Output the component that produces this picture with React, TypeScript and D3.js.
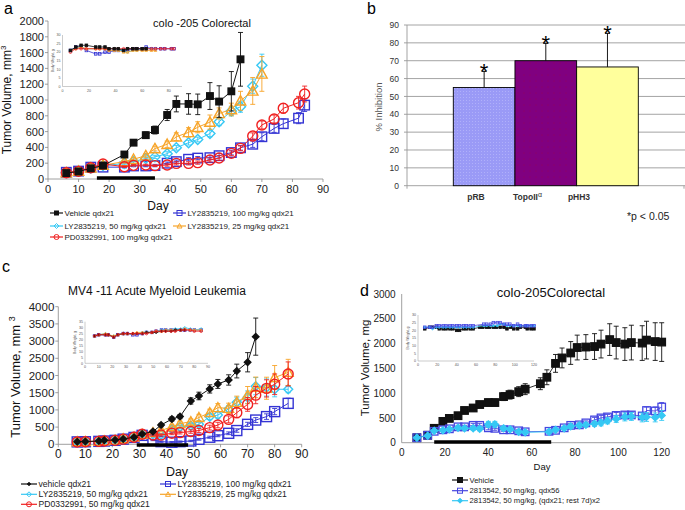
import React from 'react';
import * as d3 from 'd3';

const FONT = '"Liberation Sans", Arial, Helvetica, sans-serif';

// ---------------- Panel a data ----------------
const aDays = [6, 10, 14, 18, 25, 28, 32, 35, 39, 42, 46, 49, 53, 56, 60, 63, 67, 70, 74, 77, 82, 84];
const aVehicle = [75, 95, 135, 170, 310, 460, 555, 620, 810, 950, 950, 945, 1050, 980, 1110, 1515];
const aVehicleErr = [10, 10, 15, 20, 30, 30, 40, 50, 70, 100, 130, 130, 170, 200, 250, 340];
const aLY100 = [85, 100, 150, 150, 150, 165, 165, 170, 200, 220, 250, 265, 270, 295, 335, 395, 440, 535, 640, 700, 770, 935];
const aLY100Err = [5, 5, 10, 10, 10, 10, 10, 15, 15, 20, 20, 20, 25, 30, 30, 30, 40, 50, 50, 60, 70, 80];
const aLY50 = [80, 100, 140, 170, 195, 220, 260, 280, 320, 395, 460, 500, 575, 725, 860, 915, 1175, 1440];
const aLY50Err = [5, 5, 10, 10, 15, 20, 20, 20, 25, 30, 30, 30, 40, 50, 60, 70, 90, 140];
const aLY25 = [80, 100, 140, 175, 220, 250, 295, 385, 440, 535, 590, 655, 720, 830, 880, 990, 1115, 1330];
const aLY25Err = [5, 5, 10, 10, 20, 20, 25, 30, 40, 50, 60, 70, 90, 70, 80, 120, 170, 220];
const aPD = [80, 97, 143, 190, 156, 173, 177, 169, 177, 198, 198, 207, 240, 266, 325, 388, 544, 684, 760, 895, 966, 1076];
const aPDErr = [5, 5, 10, 10, 10, 10, 10, 10, 15, 20, 20, 20, 25, 30, 30, 30, 40, 50, 50, 60, 80, 100];
const aDosing = [16, 35];
const aXTicks = [0, 10, 20, 30, 40, 50, 60, 70, 80, 90];
const aYTicks = [0, 200, 400, 600, 800, 1000, 1200, 1400, 1600, 1800, 2000];
// body weight inset (a)
const aBwVeh = [21, 23, 24, 24, 23, 23, 23, 22, 22, 22, 21, 22, 22, 22, 22, 22];
const aBwLY100 = [21, 23, 23, 21, 19, 19, 20, 20, 21, 21, 21, 21, 22, 22, 22, 23, 22, 22, 22, 22, 22, 22];
const aBwLY50 = [21, 22, 23, 22, 22, 22, 22, 22, 22, 21, 21, 20, 21, 21, 22, 22, 22, 22];
const aBwLY25 = [21, 22, 23, 22, 22, 22, 22, 21, 21, 21, 20, 20, 21, 21, 21, 21, 21, 21];
const aBwPD = [20, 22, 22, 22, 22, 22, 22, 22, 22, 22, 22, 22, 22, 22, 22, 22, 22, 22, 22, 22, 22, 22];
const aInsetXTicks = [0, 20, 40, 60, 80];
const insetYTicks30 = [0, 5, 10, 15, 20, 25, 30];

// ---------------- Panel b data ----------------
const bCategories = ['pRB', 'TopoIIα', 'pHH3'];
const bValues = [55, 70, 66.5];
const bErrors = [9, 9.7, 18.8];
const bYTicks = [0, 10, 20, 30, 40, 50, 60, 70, 80, 90];

// ---------------- Panel c data ----------------
const cDays = [7, 10, 15, 17, 21, 24, 28, 31, 35, 38, 42, 45, 49, 52, 56, 59, 63, 66, 70, 73, 77, 80, 85];
const cVehicle = [75, 80, 95, 115, 125, 155, 205, 300, 370, 560, 735, 805, 1260, 1405, 1610, 1755, 1870, 2130, 2385, 3130];
const cVehicleErr = [10, 10, 10, 15, 15, 20, 25, 30, 40, 50, 60, 60, 90, 110, 120, 130, 150, 200, 280, 540];
const cLY100 = [70, 75, 85, 95, 115, 150, 200, 260, 126, 77, 60, 77, 97, 145, 205, 250, 320, 400, 580, 705, 805, 950, 1190];
const cLY100Err = [10, 10, 10, 10, 15, 15, 20, 20, 20, 20, 20, 20, 20, 25, 30, 30, 40, 50, 60, 70, 80, 90, 150];
const cLY50 = [75, 80, 90, 100, 120, 155, 205, 290, 300, 280, 440, 500, 540, 580, 800, 850, 1030, 1220, 1370, 1690, 1650, 1600, 1600];
const cLY50Err = [10, 10, 10, 10, 15, 15, 20, 25, 30, 30, 40, 50, 60, 60, 80, 90, 100, 150, 180, 250, 250, 220, 100];
const cLY25 = [75, 80, 90, 100, 120, 160, 210, 290, 340, 400, 510, 600, 660, 780, 920, 1065, 1045, 1220, 1430, 1655, 1630, 1940, 2090];
const cLY25Err = [10, 10, 10, 10, 15, 15, 20, 25, 30, 40, 60, 70, 80, 90, 100, 120, 150, 180, 250, 300, 320, 350, 380];
const cPD = [65, 75, 85, 95, 115, 150, 205, 290, 270, 270, 320, 340, 370, 400, 485, 560, 725, 920, 1160, 1430, 1625, 1745, 2045];
const cPDErr = [10, 10, 10, 10, 15, 15, 20, 25, 30, 30, 40, 40, 50, 60, 70, 80, 100, 150, 200, 250, 250, 300, 350];
const cDosing = [29, 48];
const cXTicks = [0, 10, 20, 30, 40, 50, 60, 70, 80, 90];
const cYTicks = [0, 500, 1000, 1500, 2000, 2500, 3000, 3500, 4000];
const cBwVeh = [23, 24, 24, 24, 22, 24, 25, 25, 25, 25, 25, 26, 26, 26, 27, 27, 27, 28, 28, 28];
const cBwLY100 = [23, 24, 24, 24, 22, 24, 25, 25, 24, 24, 25, 26, 26, 27, 28, 28, 28, 28, 28, 28, 28, 28, 28];
const cBwLY50 = [23, 24, 25, 24, 23, 24, 25, 25, 25, 25, 26, 26, 26, 27, 28, 28, 28, 29, 29, 30, 29, 28, 29];
const cBwLY25 = [23, 24, 25, 24, 23, 24, 25, 25, 25, 26, 26, 26, 26, 27, 27, 28, 28, 28, 28, 29, 28, 28, 28];
const cBwPD = [23, 24, 24, 24, 22, 24, 25, 25, 25, 25, 25, 25, 26, 27, 27, 27, 27, 27, 28, 28, 28, 27, 27];
const cInsetXTicks = [0, 10, 20, 30, 40, 50, 60, 70, 80, 90];
const cInsetYTicks = [0, 5, 10, 15, 20, 25, 30, 35];

// ---------------- Panel d data ----------------
const dDaysVeh = [7, 12, 15, 19, 22, 26, 29, 33, 36, 40, 43, 47, 50, 54, 57, 64, 67, 71, 74, 78, 81, 85, 89, 92, 96, 99, 103, 106, 111, 113, 117, 120];
const dVehicle = [100, 150, 290, 430, 490, 545, 650, 700, 770, 810, 810, 930, 970, 1030, 1080, 1190, 1320, 1600, 1710, 1810, 1920, 1930, 1940, 1990, 2080, 2020, 1990, 2020, 2010, 2070, 2040, 2030];
const dVehicleErr = [10, 15, 30, 40, 40, 40, 50, 60, 60, 70, 70, 80, 90, 100, 110, 120, 150, 180, 200, 230, 250, 250, 260, 280, 320, 330, 330, 350, 350, 380, 380, 390];
const dDaysTx = [7, 12, 15, 19, 22, 26, 29, 33, 36, 40, 43, 47, 50, 54, 57, 68, 71, 75, 78, 82, 85, 89, 92, 95, 99, 103, 106, 111, 113, 117, 120];
const dQdx56 = [100, 150, 230, 260, 280, 320, 320, 350, 350, 300, 290, 260, 260, 240, 220, 230, 250, 300, 350, 360, 400, 460, 500, 520, 550, 560, 560, 540, 650, 640, 720];
const dQdx56Err = [10, 15, 20, 20, 20, 30, 30, 40, 40, 40, 40, 30, 30, 30, 30, 30, 30, 30, 40, 40, 40, 50, 50, 50, 60, 60, 60, 70, 70, 80, 90];
const dQdx21 = [100, 140, 240, 250, 270, 300, 290, 290, 280, 370, 370, 290, 270, 220, 210, 220, 260, 290, 330, 350, 360, 380, 400, 440, 480, 520, 530, 510, 520, 510, 550];
const dQdx21Err = [10, 15, 20, 20, 20, 30, 30, 40, 40, 60, 60, 40, 30, 30, 30, 30, 30, 30, 40, 40, 40, 50, 60, 60, 70, 80, 80, 90, 90, 90, 100];
const dDosing = [15, 69];
const dXTicks = [0, 20, 40, 60, 80, 100, 120];
const dYTicks = [0, 500, 1000, 1500, 2000, 2500, 3000];
const dBwVeh = [21, 22, 22, 22, 21, 21, 21, 21, 21, 20, 20, 21, 21, 21, 21, 22, 22, 22, 22, 22, 22, 22, 22, 21, 22, 21, 21, 22, 22, 21, 21, 21];
const dBwQdx56 = [22, 22, 22, 23, 23, 23, 23, 23, 23, 23, 23, 23, 23, 23, 23, 24, 24, 24, 25, 25, 25, 24, 24, 24, 23, 24, 23, 23, 23, 23, 23];
const dBwQdx21 = [22, 22, 21, 22, 22, 22, 22, 22, 22, 22, 22, 22, 22, 22, 22, 23, 23, 23, 23, 23, 24, 24, 23, 23, 23, 23, 23, 23, 23, 23, 23];
const dInsetXTicks = [0, 20, 40, 60, 80, 100, 120];

// ---------------- colours ----------------
const BLACK = '#111';
const BLUE = '#3434d4';
const CYAN = '#36c8f4';
const ORANGE = '#f7a428';
const RED = '#f02020';

function Marker({ shape, x, y, size, color, filled, sw = 1.3 }: any) {
  const h = size / 2;
  const fill = filled ? color : 'none';
  if (shape === 'square') return <rect x={x - h} y={y - h} width={size} height={size} fill={fill} stroke={color} strokeWidth={sw} />;
  if (shape === 'circle') return <circle cx={x} cy={y} r={h} fill={fill} stroke={color} strokeWidth={sw} />;
  if (shape === 'diamond') return <path d={`M${x},${y - h}L${x + h},${y}L${x},${y + h}L${x - h},${y}Z`} fill={fill} stroke={color} strokeWidth={sw} />;
  if (shape === 'triangle') return <path d={`M${x},${y - h}L${x + h},${y + h * 0.8}L${x - h},${y + h * 0.8}Z`} fill={fill} stroke={color} strokeWidth={sw} />;
  return null;
}

function SeriesG({ s, xs, ys, lw = 1, cap = 5, sw = 1.3, noErr = false }: any) {
  const pts: [number, number][] = s.values.map((v: number, i: number) => [s.days[i], v]);
  const line = d3.line<[number, number]>().x(d => xs(d[0])).y(d => ys(d[1]));
  return (
    <g>
      <path d={line(pts) || ''} fill="none" stroke={s.color} strokeWidth={lw} />
      {!noErr && s.errors && pts.map((p, i) => {
        const e = s.errors[i];
        const x = xs(p[0]);
        const y1 = ys(p[1] + e), y2 = ys(p[1] - e);
        return (
          <g key={'e' + i} stroke={s.errColor || s.color} strokeWidth={0.9}>
            <line x1={x} x2={x} y1={y1} y2={y2} />
            <line x1={x - cap / 2} x2={x + cap / 2} y1={y1} y2={y1} />
            <line x1={x - cap / 2} x2={x + cap / 2} y1={y2} y2={y2} />
          </g>
        );
      })}
      {pts.map((p, i) => (
        <Marker key={'m' + i} shape={s.shape} x={xs(p[0])} y={ys(p[1])} size={s.size} color={s.color} filled={s.filled} sw={sw} />
      ))}
    </g>
  );
}

function XAxis({ scale, y, ticks, fontSize, dy, color = '#888', tick = 3, labelColor = '#222' }: any) {
  const [r0, r1] = scale.range();
  return (
    <g>
      <line x1={r0} x2={r1} y1={y} y2={y} stroke={color} strokeWidth={0.8} />
      {ticks.map((t: number) => (
        <g key={t}>
          <line x1={scale(t)} x2={scale(t)} y1={y} y2={y + tick} stroke={color} strokeWidth={0.8} />
          <text x={scale(t)} y={y + dy} textAnchor="middle" fontSize={fontSize} fill={labelColor}>{t}</text>
        </g>
      ))}
    </g>
  );
}

function YAxis({ scale, x, ticks, fontSize, dx, color = '#888', tick = 3, labelColor = '#222' }: any) {
  const [r0, r1] = scale.range();
  return (
    <g>
      <line x1={x} x2={x} y1={r0} y2={r1} stroke={color} strokeWidth={0.8} />
      {ticks.map((t: number) => (
        <g key={t}>
          <line x1={x - tick} x2={x} y1={scale(t)} y2={scale(t)} stroke={color} strokeWidth={0.8} />
          <text x={x - dx} y={scale(t) + fontSize * 0.36} textAnchor="end" fontSize={fontSize} fill={labelColor}>{t}</text>
        </g>
      ))}
    </g>
  );
}

function Inset({ xs, ys, xTicks, yTicks, series }: any) {
  const [x0] = xs.range();
  const [y0] = ys.range();
  return (
    <g>
      <line x1={x0} x2={xs.range()[1]} y1={y0} y2={y0} stroke="#aaa" strokeWidth={0.6} />
      <line x1={x0} x2={x0} y1={y0} y2={ys.range()[1]} stroke="#aaa" strokeWidth={0.6} />
      {xTicks.map((t: number) => (
        <text key={'x' + t} x={xs(t)} y={y0 + 5} fontSize={3.6} textAnchor="middle" fill="#555">{t}</text>
      ))}
      {yTicks.map((t: number) => (
        <text key={'y' + t} x={x0 - 2} y={ys(t) + 1.3} fontSize={3.6} textAnchor="end" fill="#555">{t}</text>
      ))}
      <text transform={`translate(${x0 - 9},${(ys.range()[0] + ys.range()[1]) / 2}) rotate(-90)`} fontSize={3.4} textAnchor="middle" fill="#555">Body Weight, g</text>
      {series.map((s: any, k: number) => (
        <SeriesG key={k} s={{ ...s, size: 2.6 }} xs={xs} ys={ys} lw={0.8} sw={0.8} noErr />
      ))}
    </g>
  );
}

function Legend({ items, fontSize, lineLen }: any) {
  return (
    <g>
      {items.map((it: any, i: number) => (
        <g key={i}>
          <line x1={it.x} x2={it.x + lineLen} y1={it.y} y2={it.y} stroke={it.s.color} strokeWidth={1.2} />
          <Marker shape={it.s.shape} x={it.x + lineLen / 2} y={it.y} size={it.s.legendSize || 5} color={it.s.color} filled={it.s.filled} sw={1} />
          <text x={it.x + lineLen + 1.5} y={it.y + fontSize * 0.36} fontSize={fontSize} fill="#222">{it.s.name}</text>
        </g>
      ))}
    </g>
  );
}

function DosingBar({ xs, y, range, w }: any) {
  return <line x1={xs(range[0])} x2={xs(range[1])} y1={y} y2={y} stroke="#000" strokeWidth={w} />;
}

// ---------------- Panel A ----------------
function PanelA() {
  const xs = d3.scaleLinear().domain([0, 90]).range([48, 323]);
  const ys = d3.scaleLinear().domain([0, 2000]).range([179, 21]);
  const ixs = d3.scaleLinear().domain([0, 90]).range([62.5, 182]);
  const iys = d3.scaleLinear().domain([0, 30]).range([86.5, 35]);
  const veh = { name: 'Vehicle qdx21', days: aDays, values: aVehicle, errors: aVehicleErr, color: BLACK, shape: 'square', filled: true, size: 6.5, legendSize: 4 };
  const ly100 = { name: 'LY2835219, 100 mg/kg qdx21', days: aDays, values: aLY100, errors: aLY100Err, color: BLUE, shape: 'square', filled: false, size: 9.5 };
  const ly50 = { name: 'LY2835219, 50 mg/kg qdx21', days: aDays, values: aLY50, errors: aLY50Err, color: CYAN, shape: 'diamond', filled: false, size: 10 };
  const ly25 = { name: 'LY2835219, 25 mg/kg qdx21', days: aDays, values: aLY25, errors: aLY25Err, color: ORANGE, shape: 'triangle', filled: false, size: 10.5 };
  const pd = { name: 'PD0332991, 100 mg/kg qdx21', days: aDays, values: aPD, errors: aPDErr, color: RED, shape: 'circle', filled: false, size: 10 };
  const bw = [
    { ...ly100, values: aBwLY100 }, { ...ly50, values: aBwLY50 }, { ...ly25, values: aBwLY25 },
    { ...pd, values: aBwPD }, { ...veh, values: aBwVeh },
  ];
  return (
    <g>
      <text x={4} y={14} fontSize={16} fill="#000">a</text>
      <text x={202} y={27} fontSize={11} textAnchor="middle" fill="#111">colo -205  Colorectal</text>
      <Inset xs={ixs} ys={iys} xTicks={aInsetXTicks} yTicks={insetYTicks30} series={bw} />
      <YAxis scale={ys} x={48} ticks={aYTicks} fontSize={11} dx={4} />
      <XAxis scale={xs} y={179} ticks={aXTicks} fontSize={11} dy={14} />
      {[ly100, ly50, ly25, pd, veh].map((s, i) => <SeriesG key={i} s={s} xs={xs} ys={ys} lw={1} cap={5} sw={1.4} />)}
      <DosingBar xs={xs} y={178} range={aDosing} w={3.5} />
      <text x={158} y={210} fontSize={12} textAnchor="middle" fill="#111">Day</text>
      <text transform="translate(11,100) rotate(-90)" fontSize={12} textAnchor="middle" fill="#111">
        Tumor Volume, mm<tspan fontSize={8} dy={-5}>3</tspan>
      </text>
      <Legend fontSize={8} lineLen={13} items={[
        { s: veh, x: 50, y: 213 }, { s: ly100, x: 173, y: 213 },
        { s: ly50, x: 50, y: 226 }, { s: ly25, x: 173, y: 226 },
        { s: pd, x: 50, y: 237 },
      ]} />
    </g>
  );
}

// ---------------- Panel B ----------------
function PanelB() {
  const ys = d3.scaleLinear().domain([0, 90]).range([185.7, 25]);
  const xb = d3.scaleBand<string>().domain(bCategories).range([453.3, 638.3]).paddingInner(0).paddingOuter(0);
  const xl = d3.scalePoint<string>().domain(bCategories).range([476, 579]);
  const fills = ['#9a9af6', '#800080', '#ffff9c'];
  return (
    <g>
      <defs>
        <pattern id="dotsA" width="3" height="3" patternUnits="userSpaceOnUse">
          <rect width="3" height="3" fill="#9a9af6" />
          <circle cx="1.5" cy="1.5" r="0.45" fill="#c8c8ff" />
        </pattern>
        <pattern id="dotsB" width="6" height="6" patternUnits="userSpaceOnUse">
          <rect width="6" height="6" fill="#800080" />
          <circle cx="2" cy="3" r="0.4" fill="#b00030" />
        </pattern>
      </defs>
      <text x={367} y={14} fontSize={16} fill="#000">b</text>
      {bYTicks.map(t => (
        <g key={t}>
          <line x1={407} x2={685} y1={ys(t)} y2={ys(t)} stroke="#9a9a9a" strokeWidth={0.9} />
          <line x1={404} x2={407} y1={ys(t)} y2={ys(t)} stroke="#999" strokeWidth={0.9} />
          <text x={399} y={ys(t) + 3.2} fontSize={8.5} textAnchor="end" fill="#333">{t}</text>
        </g>
      ))}
      <line x1={407} x2={407} y1={ys(90)} y2={ys(0)} stroke="#999" strokeWidth={0.9} />
      <line x1={407} x2={407} y1={ys(0)} y2={ys(0) + 3} stroke="#999" strokeWidth={0.9} />
      <line x1={684} x2={684} y1={ys(0)} y2={ys(0) + 3} stroke="#999" strokeWidth={0.9} />
      {bCategories.map((c, i) => {
        const top = bValues[i] + bErrors[i];
        const cx = (xb(c) as number) + xb.bandwidth() / 2;
        return (
          <g key={c}>
            <line x1={cx} x2={cx} y1={ys(bValues[i])} y2={ys(top)} stroke="#000" strokeWidth={0.9} />
            <line x1={cx - 2.5} x2={cx + 2.5} y1={ys(top)} y2={ys(top)} stroke="#000" strokeWidth={0.9} />
            <rect x={xb(c)} y={ys(bValues[i])} width={xb.bandwidth()} height={ys(0) - ys(bValues[i])}
              fill={i === 0 ? 'url(#dotsA)' : i === 1 ? 'url(#dotsB)' : fills[i]} stroke="#000" strokeWidth={0.9} />
            <text x={cx} y={ys(top) + 7.5} fontSize={22} textAnchor="middle" fill="#000">*</text>
          </g>
        );
      })}
      {bCategories.map(c => (
        <text key={'l' + c} x={xl(c)} y={200} fontSize={8.5} fontWeight="bold" textAnchor="middle" fill="#333">
          {c.replace('α', '')}{c.includes('α') ? <tspan fontSize={7} dy={-3} fontWeight="normal">α</tspan> : null}
        </text>
      ))}
      <text x={627} y={220} fontSize={10.5} fill="#222">*p &lt; 0.05</text>
      <text transform="translate(382,107) rotate(-90)" fontSize={9.5} textAnchor="middle" fill="#555">% Inhibition</text>
    </g>
  );
}

// ---------------- Panel C ----------------
function PanelC() {
  const xs = d3.scaleLinear().domain([0, 90]).range([58.3, 301.7]);
  const ys = d3.scaleLinear().domain([0, 4000]).range([444.3, 306.7]);
  const ixs = d3.scaleLinear().domain([0, 90]).range([85, 208]);
  const iys = d3.scaleLinear().domain([0, 35]).range([363.3, 321.7]);
  const veh = { name: 'vehicle qdx21', days: cDays, values: cVehicle, errors: cVehicleErr, color: BLACK, shape: 'diamond', filled: true, size: 6.5, legendSize: 3.5 };
  const ly100 = { name: 'LY2835219, 100 mg/kg qdx21', days: cDays, values: cLY100, errors: cLY100Err, color: BLUE, shape: 'square', filled: false, size: 10 };
  const ly50 = { name: 'LY2835219, 50 mg/kg qdx21', days: cDays, values: cLY50, errors: cLY50Err, color: CYAN, shape: 'diamond', filled: false, size: 9 };
  const ly25 = { name: 'LY2835219, 25 mg/kg qdx21', days: cDays, values: cLY25, errors: cLY25Err, color: ORANGE, shape: 'triangle', filled: false, size: 10 };
  const pd = { name: 'PD0332991, 50 mg/kg qdx21', days: cDays, values: cPD, errors: cPDErr, color: RED, shape: 'circle', filled: false, size: 10 };
  const bw = [
    { ...ly100, values: cBwLY100 }, { ...ly50, values: cBwLY50 }, { ...ly25, values: cBwLY25 },
    { ...veh, values: cBwVeh }, { ...pd, values: cBwPD },
  ];
  return (
    <g>
      <text x={2} y={272} fontSize={16} fill="#000">c</text>
      <text x={157} y={295} fontSize={12} textAnchor="middle" fill="#111">MV4 -11 Acute Myeloid Leukemia</text>
      <Inset xs={ixs} ys={iys} xTicks={cInsetXTicks} yTicks={cInsetYTicks} series={bw} />
      <YAxis scale={ys} x={58.3} ticks={cYTicks} fontSize={11.5} dx={4} />
      <XAxis scale={xs} y={444.3} ticks={cXTicks} fontSize={12} dy={14} />
      {[ly100, ly50, ly25, pd, veh].map((s, i) => <SeriesG key={i} s={s} xs={xs} ys={ys} lw={1} cap={5} sw={1.4} />)}
      <DosingBar xs={xs} y={445} range={cDosing} w={3.5} />
      <text x={177} y={476} fontSize={12.5} textAnchor="middle" fill="#111">Day</text>
      <text transform="translate(20,377) rotate(-90)" fontSize={13} textAnchor="middle" fill="#111">
        Tumor Volume, mm <tspan fontSize={9} dy={-5}>3</tspan>
      </text>
      <Legend fontSize={8.6} lineLen={16} items={[
        { s: veh, x: 21, y: 484 }, { s: ly100, x: 160, y: 484 },
        { s: ly50, x: 21, y: 494.3 }, { s: ly25, x: 160, y: 494.3 },
        { s: pd, x: 21, y: 504.3 },
      ]} />
    </g>
  );
}

// ---------------- Panel D ----------------
function PanelD() {
  const xs = d3.scaleLinear().domain([0, 120]).range([401.7, 661.7]);
  const ys = d3.scaleLinear().domain([0, 3000]).range([442.7, 294]);
  const ixs = d3.scaleLinear().domain([0, 120]).range([418, 534]);
  const iys = d3.scaleLinear().domain([0, 30]).range([361, 315]);
  const veh = { name: 'Vehicle', days: dDaysVeh, values: dVehicle, errors: dVehicleErr, color: BLACK, shape: 'square', filled: true, size: 7.5, legendSize: 5 };
  const q56 = { name: '2813542, 50 mg/kg, qdx56', days: dDaysTx, values: dQdx56, errors: dQdx56Err, color: '#4646e0', shape: 'square', filled: false, size: 7.5 };
  const q21 = { name: '2813542, 50 mg/kg, (qdx21; rest 7d)x2', days: dDaysTx, values: dQdx21, errors: dQdx21Err, color: CYAN, shape: 'diamond', filled: true, size: 7 };
  const bw = [{ ...veh, values: dBwVeh }, { ...q21, values: dBwQdx21 }, { ...q56, values: dBwQdx56 }];
  return (
    <g>
      <text x={360} y={296} fontSize={16} fill="#000">d</text>
      <text x={551} y={297} fontSize={13} textAnchor="middle" fill="#111">colo-205Colorectal</text>
      <Inset xs={ixs} ys={iys} xTicks={dInsetXTicks} yTicks={insetYTicks30} series={bw} />
      <YAxis scale={ys} x={401.7} ticks={dYTicks} fontSize={10} dx={6} tick={0} />
      <XAxis scale={xs} y={442.7} ticks={dXTicks} fontSize={10} dy={13} tick={0} />
      {[veh, q56, q21].map((s, i) => <SeriesG key={i} s={s} xs={xs} ys={ys} lw={0.9} cap={5} sw={1.3} />)}
      <DosingBar xs={xs} y={442} range={dDosing} w={3.5} />
      <text x={542} y={470} fontSize={9.5} textAnchor="middle" fill="#111">Day</text>
      <text transform="translate(369,368) rotate(-90)" fontSize={11.5} textAnchor="middle" fill="#111">Tumor Volume, mg</text>
      <Legend fontSize={7.6} lineLen={16} items={[
        { s: veh, x: 452, y: 480 }, { s: q56, x: 452, y: 490.7 }, { s: q21, x: 452, y: 500.7 },
      ]} />
    </g>
  );
}

export default function App() {
  return (
    <svg width={685} height={510} viewBox="0 0 685 510" fontFamily={FONT}
      style={{ position: 'absolute', left: 0, top: 0, background: '#fff', display: 'block' }}>
      <rect width={685} height={510} fill="#fff" />
      <PanelA />
      <PanelB />
      <PanelC />
      <PanelD />
    </svg>
  );
}
